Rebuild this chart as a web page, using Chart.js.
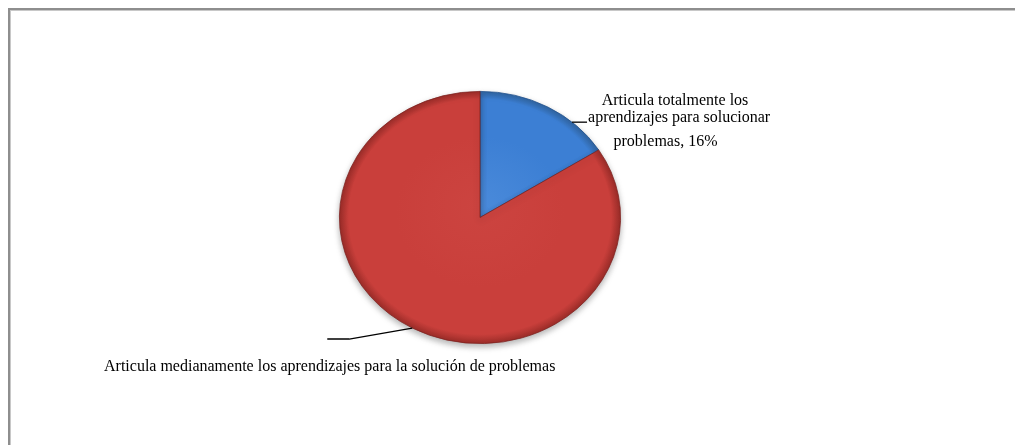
<!DOCTYPE html>
<html>
<head>
<meta charset="utf-8">
<script src="https://cdn.jsdelivr.net/npm/chart.js@4"></script>
<style>
  html, body { margin: 0; padding: 0; background: #fff; }
  #wrap { position: relative; width: 1015px; height: 445px; overflow: hidden; }
  #frame { position: absolute; left: 8px; top: 8px; width: 1100px; height: 500px;
           border-left: 2px solid #8e8e8e; border-top: 2px solid #8e8e8e;
           box-shadow: inset 1px 1px 0 #c8c8c8; }
  canvas { position: absolute; left: 0; top: 0; }
</style>
</head>
<body>
<div id="wrap">
  <div id="frame"></div>
  <canvas id="c" width="1015" height="445"></canvas>
</div>
<script>
const categories = [
  "Articula totalmente los aprendizajes para solucionar problemas",
  "Articula medianamente los aprendizajes para la solución de problemas"
];
const percentValues = [16, 84];
const sliceColors = ["#3c7fd4", "#c93f3b"];
const sliceLight = ["#4a8ada", "#cc4440"];
const sliceDark = ["#30649f", "#9a2c28"];

const ySquash = 0.897;
const FONT = '16px "Liberation Serif", "Times New Roman", serif';

function sliceFill(ctx) {
  const i = ctx.dataIndex;
  const chart = ctx.chart;
  const a = chart.chartArea;
  if (!a || i === undefined) return sliceColors[i || 0];
  const cx = (a.left + a.right) / 2, cy = (a.top + a.bottom) / 2;
  const r = Math.min(a.right - a.left, a.bottom - a.top) / 2;
  const g = chart.ctx.createRadialGradient(cx, cy - r * 0.1, 0, cx, cy, r);
  g.addColorStop(0, sliceLight[i]);
  g.addColorStop(0.6, sliceColors[i]);
  g.addColorStop(0.93, sliceColors[i]);
  g.addColorStop(1, sliceDark[i]);
  return g;
}

const squashPlugin = {
  id: 'squash',
  beforeDatasetsDraw(chart) {
    const a = chart.chartArea;
    const cx = (a.left + a.right) / 2, cy = (a.top + a.bottom) / 2;
    const ctx = chart.ctx;
    ctx.save();
    ctx.translate(cx, cy);
    ctx.scale(1, ySquash);
    ctx.translate(-cx, -cy);
    ctx.shadowColor = 'rgba(0,0,0,0.3)';
    ctx.shadowBlur = 6;
    ctx.shadowOffsetY = 3;
  },
  afterDatasetsDraw(chart) {
    chart.ctx.restore();
  }
};

function edgePoint(arc, frac) {
  const ang = arc.startAngle + frac * (arc.endAngle - arc.startAngle);
  return {
    x: arc.x + Math.cos(ang) * arc.outerRadius,
    y: arc.y + Math.sin(ang) * arc.outerRadius * ySquash
  };
}

const labelPlugin = {
  id: 'labels',
  afterDraw(chart) {
    const ctx = chart.ctx;
    const meta = chart.getDatasetMeta(0);
    const blue = meta.data[0], red = meta.data[1];
    ctx.save();
    ctx.strokeStyle = '#000';
    ctx.lineWidth = 1.3;
    ctx.fillStyle = '#000';
    ctx.font = FONT;
    ctx.textBaseline = 'alphabetic';

    // blue label
    const p = edgePoint(blue, 0.71);
    ctx.beginPath();
    ctx.moveTo(p.x, p.y);
    ctx.lineTo(p.x + 15, p.y);
    ctx.stroke();
    ctx.textAlign = 'center';
    ctx.fillText("Articula totalmente los", 675, 105);
    ctx.textAlign = 'left';
    ctx.fillText("aprendizajes para solucionar", p.x + 16, 121.5);
    ctx.textAlign = 'center';
    ctx.fillText("problemas, " + percentValues[0] + "%", 665.5, 145.5);

    // red label
    const q = edgePoint(red, 0.5);
    ctx.beginPath();
    ctx.moveTo(q.x, q.y);
    ctx.lineTo(q.x - 63, q.y + 11);
    ctx.lineTo(q.x - 85, q.y + 11);
    ctx.stroke();
    ctx.textAlign = 'left';
    ctx.fillText(categories[1], 104, 370.5);
    ctx.restore();
  }
};

new Chart(document.getElementById('c'), {
  type: 'pie',
  data: {
    labels: categories,
    datasets: [{
      data: percentValues,
      backgroundColor: sliceFill,
      borderColor: ['#1f4f8c', '#7e211e'],
      borderWidth: 0.8
    }]
  },
  options: {
    responsive: false,
    animation: false,
    layout: { padding: { left: 339, right: 394, top: 76.5, bottom: 86.5 } },
    plugins: { legend: { display: false }, tooltip: { enabled: false } }
  },
  plugins: [squashPlugin, labelPlugin]
});
</script>
</body>
</html>
